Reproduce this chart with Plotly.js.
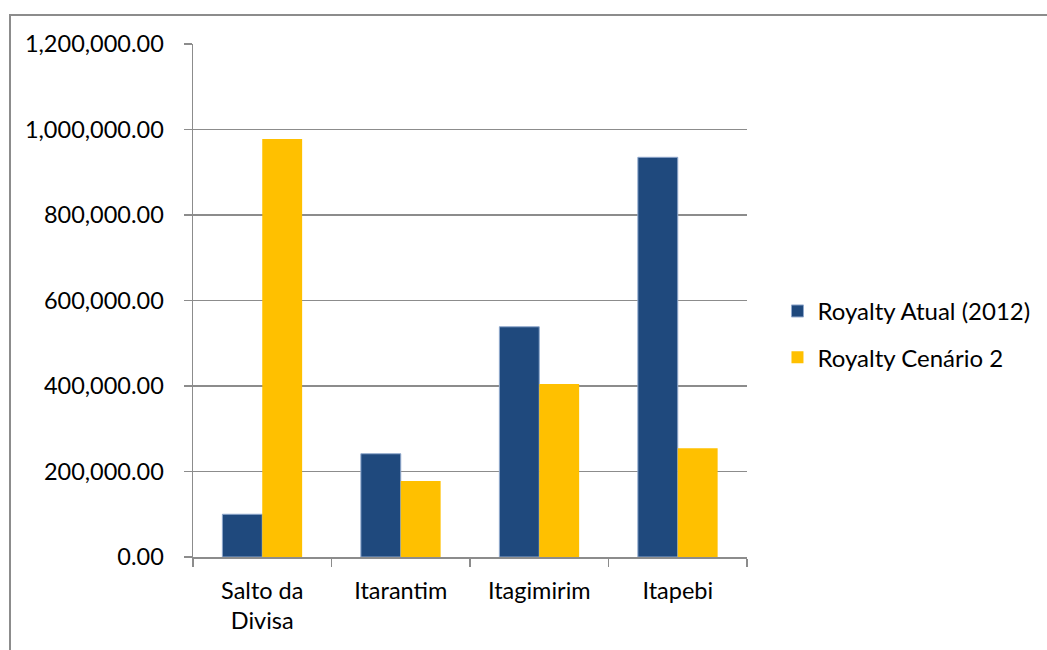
<!DOCTYPE html>
<html>
<head>
<meta charset="utf-8">
<script src="https://cdn.plot.ly/plotly-3.0.1.min.js"></script>
<style>
html,body{margin:0;padding:0;background:#fff;overflow:hidden;}
#chart{position:absolute;left:0;top:0;width:1047px;height:650px;}
#frame{position:absolute;left:9px;top:14px;width:1200px;height:800px;border:2px solid #8c8c8c;pointer-events:none;box-sizing:border-box;}
</style>
</head>
<body>
<div id="chart"></div>
<div id="frame"></div>
<script>
var categories = ["Salto da<br>Divisa", "Itarantim", "Itagimirim", "Itapebi"];
var seriesNames = ["Royalty Atual (2012)", "Royalty Cenário 2"];
var royaltyAtual = [100000, 241500, 538500, 935000];
var royaltyCenario2 = [978000, 178000, 404500, 254500];
var yTickValues = [0, 200000, 400000, 600000, 800000, 1000000, 1200000];

var font = {family: "Lato, 'Open Sans', sans-serif", size: 23.5, color: "#000000"};
var legendFont = {family: "Lato, 'Open Sans', sans-serif", size: 24, color: "#000000"};

var traces = [
  {type: "bar", name: seriesNames[0], x: categories, y: royaltyAtual, legendgroup: "a",
   marker: {color: "#1F497D", line: {color: "#8FA8CC", width: 1}}},
  {type: "bar", name: seriesNames[1], x: categories, y: royaltyCenario2, legendgroup: "b",
   marker: {color: "#FFC000", line: {width: 0}}}
];

var layout = {
  width: 1047, height: 650,
  margin: {l: 193, r: 298, t: 44, b: 93},
  paper_bgcolor: "#ffffff", plot_bgcolor: "#ffffff",
  font: font,
  bargap: 0.424, bargroupgap: 0,
  showlegend: true,
  legend: {x: 1.055, xanchor: "left", y: 0.434, yanchor: "middle", font: legendFont,
           tracegroupgap: 12, bgcolor: "rgba(0,0,0,0)"},
  xaxis: {type: "category", showline: true, linecolor: "#8c8c8c", linewidth: 1.5,
          ticks: "outside", tickson: "boundaries", ticklen: 8, tickcolor: "#8c8c8c", tickwidth: 1.5,
          tickfont: font, showgrid: false, zeroline: false, fixedrange: true,
          ticklabelstandoff: 12},
  yaxis: {range: [0, 1200000], tickvals: yTickValues, tickformat: ",.2f",
          showline: true, linecolor: "#8c8c8c", linewidth: 1.5,
          ticks: "outside", ticklen: 8, tickcolor: "#8c8c8c", tickwidth: 1.5,
          showgrid: true, gridcolor: "#8c8c8c", gridwidth: 1.5, zeroline: false,
          tickfont: font, ticklabelstandoff: 15, fixedrange: true}
};

Plotly.newPlot("chart", traces, layout, {staticPlot: true, displayModeBar: false});
</script>
</body>
</html>
